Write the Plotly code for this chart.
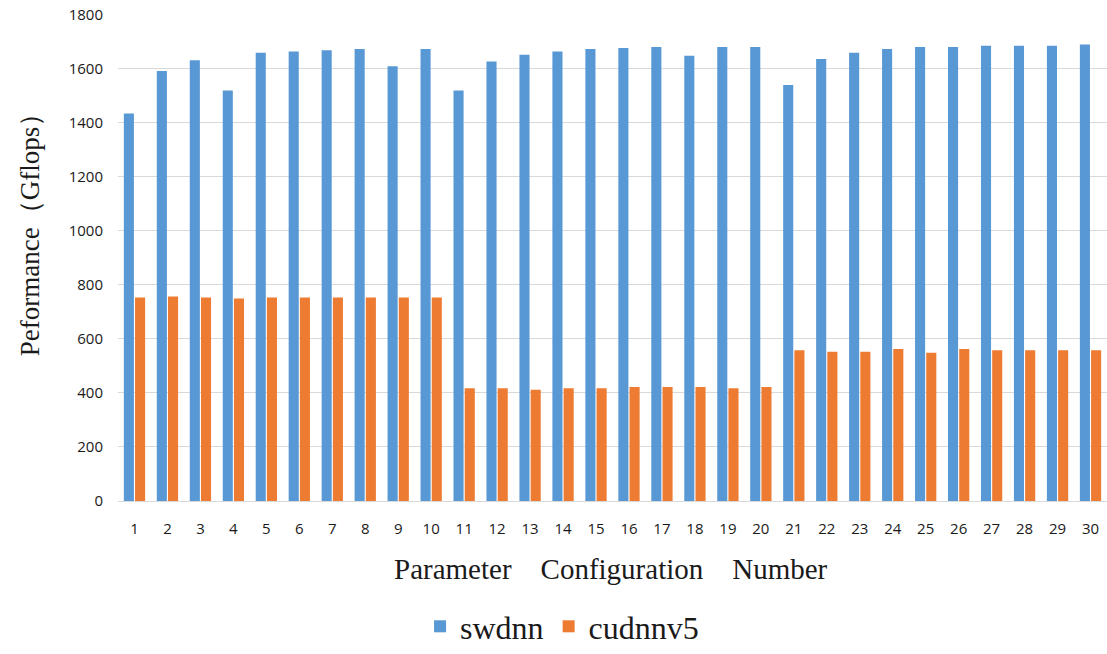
import plotly.graph_objects as go

configs = [str(i) for i in range(1, 31)]
swdnn = [1435, 1592, 1632, 1520, 1660, 1664, 1669, 1673, 1610, 1673,
         1520, 1627, 1652, 1664, 1673, 1677, 1681, 1648, 1681, 1681,
         1540, 1636, 1660, 1673, 1681, 1681, 1685, 1685, 1685, 1690]
cudnnv5 = [753, 757, 753, 750, 753, 753, 753, 753, 753, 753,
           417, 417, 412, 417, 417, 422, 422, 422, 417, 422,
           558, 553, 553, 563, 549, 563, 558, 558, 558, 558]
y_ticks = [0, 200, 400, 600, 800, 1000, 1200, 1400, 1600, 1800]

fig = go.Figure()
fig.add_trace(go.Bar(x=configs, y=swdnn, name="swdnn",
                     marker=dict(color="#5898D4", line=dict(width=0))))
fig.add_trace(go.Bar(x=configs, y=cudnnv5, name="cudnnv5",
                     marker=dict(color="#EE7B32", line=dict(width=0))))

sp = "\u00a0\u00a0\u00a0 "
fig.update_layout(
    width=1107, height=654,
    margin=dict(l=118, r=0, t=14, b=153),
    paper_bgcolor="white", plot_bgcolor="white",
    barmode="group", bargap=0.32, bargroupgap=0.1,
    font=dict(family="Liberation Sans", color="#262626"),
    xaxis=dict(
        type="category", showgrid=False, automargin=False,
        showline=True, linecolor="#d9d9d9", linewidth=1,
        ticks="", ticklabelstandoff=14,
        tickfont=dict(family="Open Sans", size=15, color="#1a1a1a"),
    ),
    yaxis=dict(
        range=[0, 1803], tickvals=y_ticks, automargin=False,
        showgrid=True, gridcolor="#d9d9d9", gridwidth=1,
        zeroline=False, showline=False, ticks="", ticklabelstandoff=14,
        ticklabeloverflow="allow",
        tickfont=dict(family="Open Sans", size=15, color="#1a1a1a"),
    ),
    legend=dict(orientation="h", x=0.449, xanchor="center", y=-0.315, yanchor="bottom",
                font=dict(family="Liberation Serif", size=32, color="#1a1a1a"),
                traceorder="normal"),
    annotations=[
        dict(text="Peformance（Gflops）", xref="paper", yref="paper",
             x=-0.089, y=0.56, xanchor="center", yanchor="middle",
             textangle=-90, showarrow=False,
             font=dict(family="Liberation Serif", size=27, color="#1a1a1a")),
        dict(text="Parameter" + sp + "Configuration" + sp + "Number",
             xref="paper", yref="paper", x=0.4985, y=-0.14,
             xanchor="center", yanchor="middle", showarrow=False,
             font=dict(family="Liberation Serif", size=29, color="#1a1a1a")),
    ],
)

# remove the default 8px page margin so the figure fills the window exactly
fig.write_html("out.html", config={"displayModeBar": False},
               post_script="document.body.style.margin='0px';")
